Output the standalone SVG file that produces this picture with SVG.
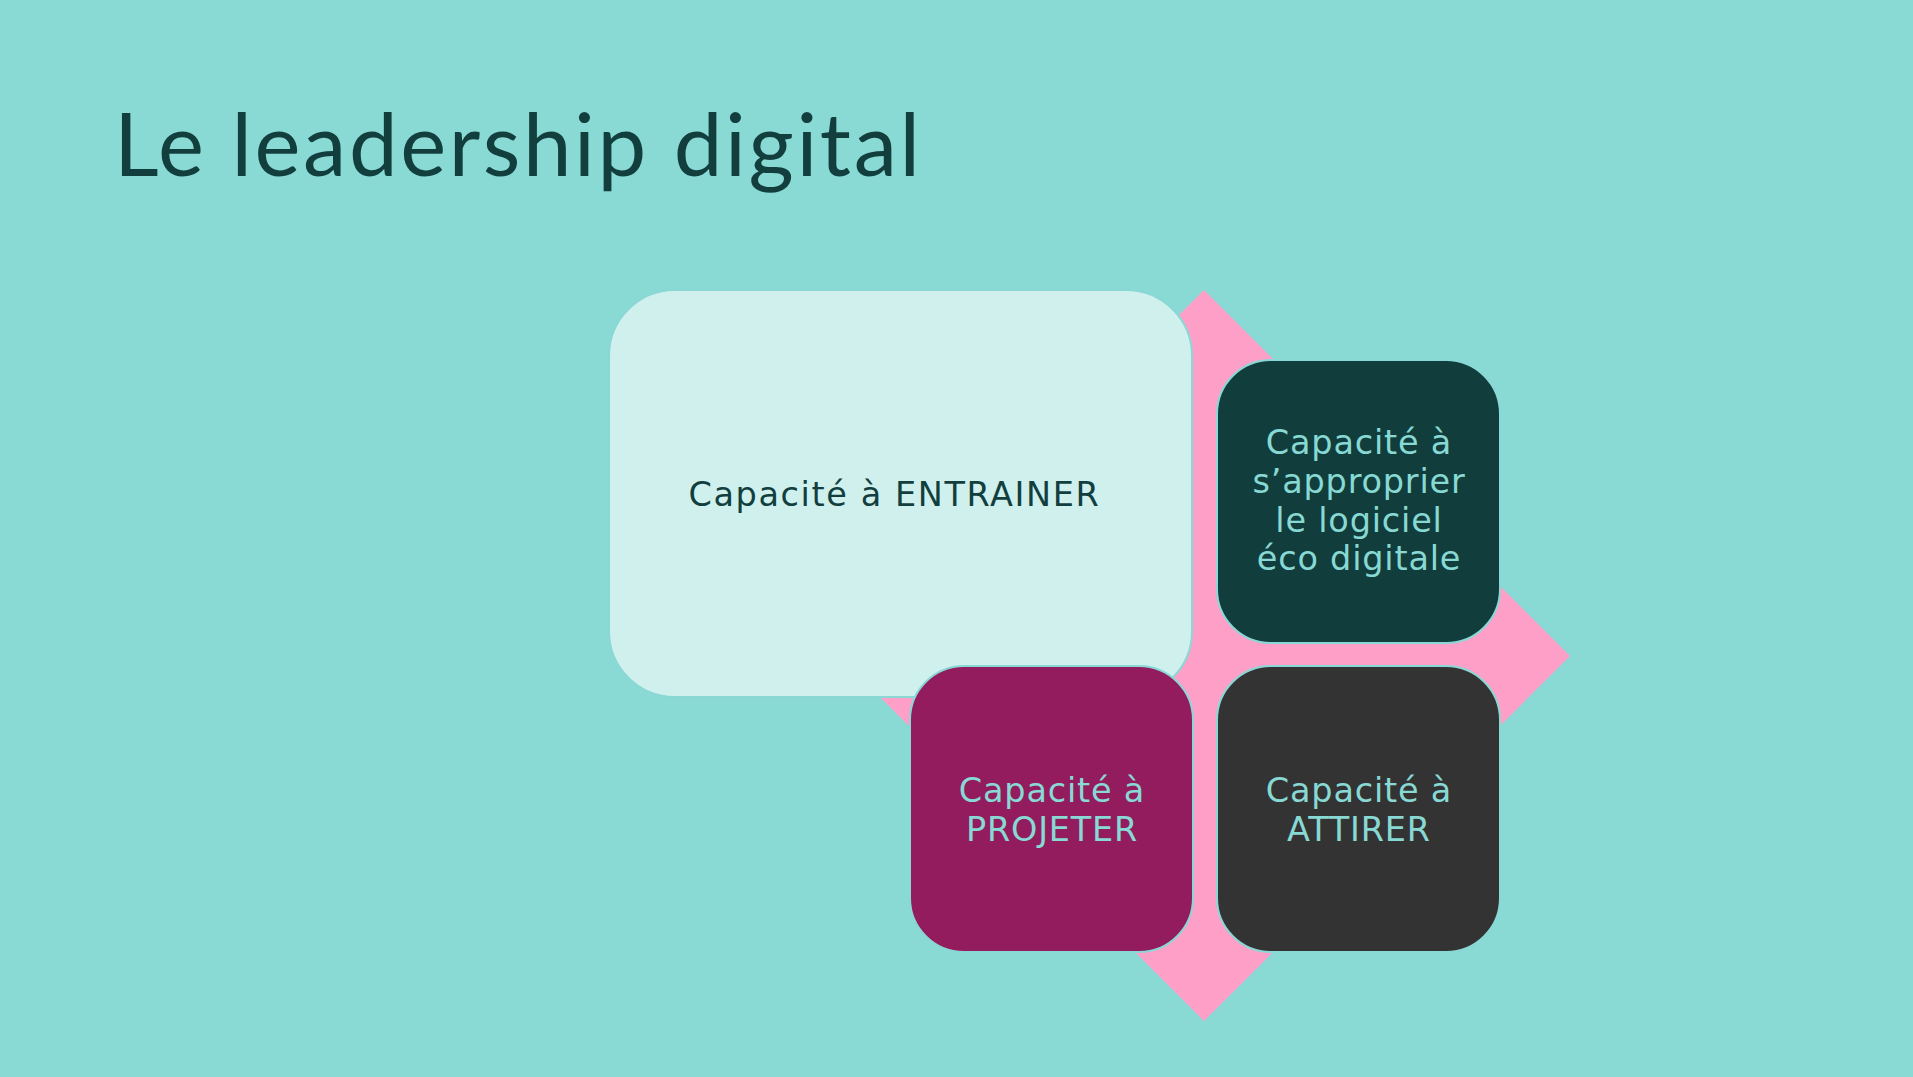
<svg xmlns="http://www.w3.org/2000/svg" width="1913" height="1077" viewBox="0 0 1913 1077">
<style>
.title{font-family:Lato,"Open Sans","Noto Sans",sans-serif;font-size:87px;fill:#123F3E}
.lbl{font-family:"DejaVu Sans",Verdana,sans-serif;font-size:33.5px;letter-spacing:0.8px;text-anchor:middle}
.box{stroke:#8AD8D5;stroke-width:2}
</style>
<rect x="0" y="0" width="1913" height="1077" fill="#89D9D5"/>
<text class="title" x="114" y="176" textLength="806" lengthAdjust="spacing">Le leadership digital</text>
<polygon id="diamond" points="1204,290 1570,656 1204,1021 839,656" fill="#FE9FC8"/>
<g id="connectors"/>
<g id="node-entrainer">
<rect class="box" x="609" y="290" width="583" height="407" rx="66" ry="66" fill="#D0F0EE"/>
<text class="lbl" x="894" y="506" fill="#123F3E" textLength="411" lengthAdjust="spacing">Capacité à ENTRAINER</text>
</g>
<g id="node-approprier">
<rect class="box" x="1217" y="360" width="283" height="283" rx="54" ry="54" fill="#113E3C"/>
<text class="lbl" fill="#88D8D4"><tspan x="1359" y="454">Capacité à</tspan><tspan x="1359" y="493">s’approprier</tspan><tspan x="1359" y="532">le logiciel</tspan><tspan x="1359" y="570">éco digitale</tspan></text>
</g>
<g id="node-projeter">
<rect class="box" x="910" y="666" width="283" height="286" rx="54" ry="54" fill="#921C5E"/>
<text class="lbl" fill="#88D8D4"><tspan x="1052" y="802">Capacité à</tspan><tspan x="1052" y="841">PROJETER</tspan></text>
</g>
<g id="node-attirer">
<rect class="box" x="1217" y="666" width="283" height="286" rx="54" ry="54" fill="#333333"/>
<text class="lbl" fill="#88D8D4"><tspan x="1359" y="802">Capacité à</tspan><tspan x="1359" y="841">ATTIRER</tspan></text>
</g>
</svg>
